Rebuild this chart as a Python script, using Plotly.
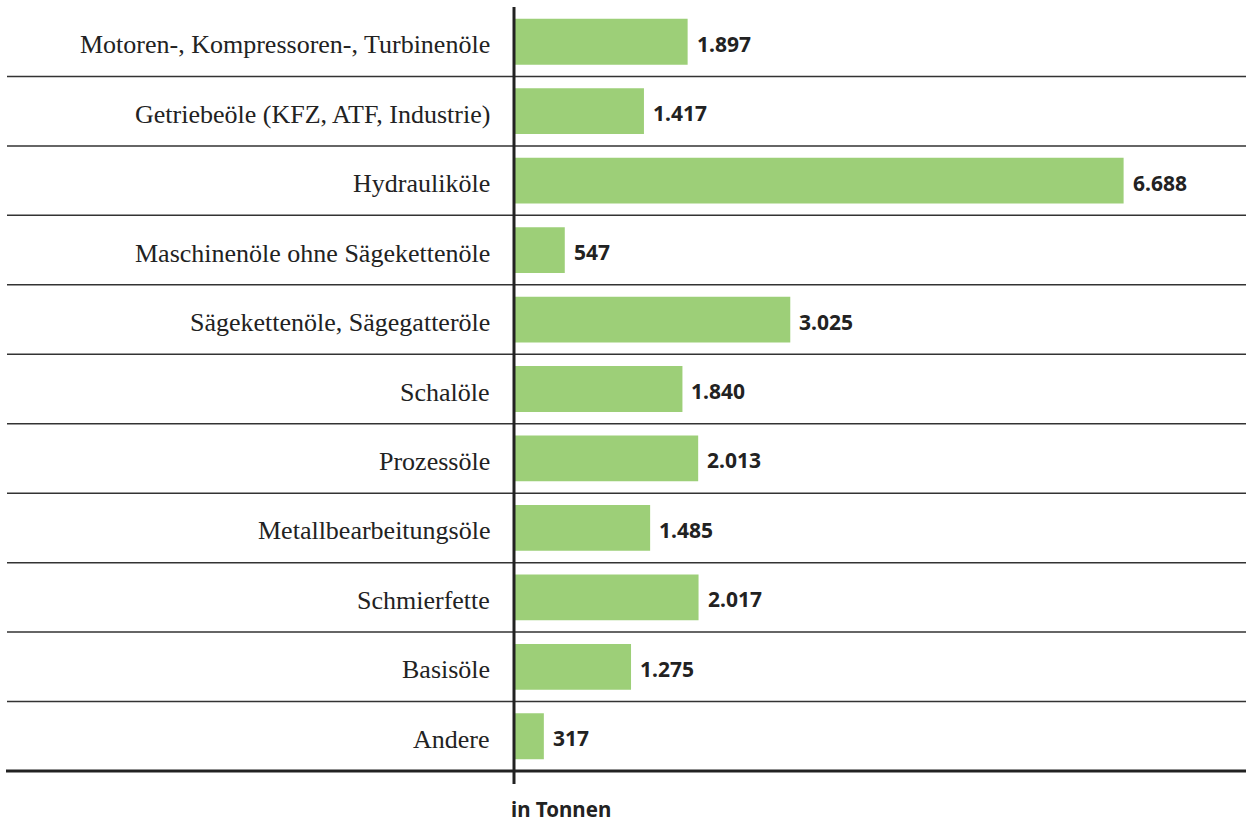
import plotly.graph_objects as go

categories = [
    "Motoren-, Kompressoren-, Turbinenöle",
    "Getriebeöle (KFZ, ATF, Industrie)",
    "Hydrauliköle",
    "Maschinenöle ohne Sägekettenöle",
    "Sägekettenöle, Sägegatteröle",
    "Schalöle",
    "Prozessöle",
    "Metallbearbeitungsöle",
    "Schmierfette",
    "Basisöle",
    "Andere",
]
values = [1897, 1417, 6688, 547, 3025, 1840, 2013, 1485, 2017, 1275, 317]
value_labels = ["1.897", "1.417", "6.688", "547", "3.025", "1.840", "2.013", "1.485", "2.017", "1.275", "317"]
unit_label = "in Tonnen"

W, H = 1246, 822
ML, MR, MT, MB = 515, 0, 7, 51
pw = W - ML - MR
ph = H - MT - MB
n = len(categories)
xmax = pw / 0.0910

def px_to_paper_x(px):
    return (px - ML) / pw

def px_to_paper_y(py):
    return (H - MB - py) / ph

fig = go.Figure()
fig.add_trace(go.Bar(
    y=list(range(n)), x=values, orientation="h",
    marker=dict(color="#9dcf78", line=dict(width=0)),
    width=0.66, hoverinfo="skip",
))

shapes = []
for i in range(n - 1):
    shapes.append(dict(type="line", xref="paper", yref="y",
                       x0=px_to_paper_x(7), x1=1.0, y0=i + 0.5, y1=i + 0.5,
                       line=dict(color="#333333", width=1.5), layer="below"))
shapes.append(dict(type="line", xref="paper", yref="paper",
                   x0=px_to_paper_x(6), x1=1.0, y0=0, y1=0,
                   line=dict(color="#222222", width=3)))
shapes.append(dict(type="line", xref="paper", yref="paper",
                   x0=px_to_paper_x(514), x1=px_to_paper_x(514),
                   y0=px_to_paper_y(784), y1=px_to_paper_y(7),
                   line=dict(color="#222222", width=3)))

annotations = []
for i, (c, v, lab) in enumerate(zip(categories, values, value_labels)):
    annotations.append(dict(x=px_to_paper_x(492), xref="paper", y=i, yref="y",
                            text=c, showarrow=False, xanchor="right", yanchor="middle",
                            yshift=-3,
                            font=dict(family="Liberation Serif", size=26, color="#222222")))
    annotations.append(dict(x=v, xref="x", y=i, yref="y", text="<b>" + lab + "</b>",
                            showarrow=False, xanchor="left", yanchor="middle", xshift=7,
                            yshift=-2,
                            font=dict(family="Noto Sans", size=21, color="#222222")))
annotations.append(dict(x=px_to_paper_x(510), xref="paper", y=px_to_paper_y(809), yref="paper",
                        text="<b>" + unit_label + "</b>", showarrow=False,
                        xanchor="left", yanchor="middle", borderpad=0,
                        font=dict(family="Noto Sans", size=20.5, color="#222222")))

fig.update_layout(
    width=W, height=H,
    margin=dict(l=ML, r=MR, t=MT, b=MB, pad=0),
    paper_bgcolor="white", plot_bgcolor="white",
    showlegend=False,
    xaxis=dict(range=[0, xmax], showgrid=False, zeroline=False, showticklabels=False,
               showline=False, fixedrange=True),
    yaxis=dict(range=[n - 0.5, -0.5], showgrid=False, zeroline=False, showticklabels=False,
               showline=False, fixedrange=True),
    shapes=shapes, annotations=annotations,
)

fig.write_html("out.html", config=dict(displayModeBar=False),
               post_script="document.body.style.margin='0';document.body.style.overflow='hidden';")
